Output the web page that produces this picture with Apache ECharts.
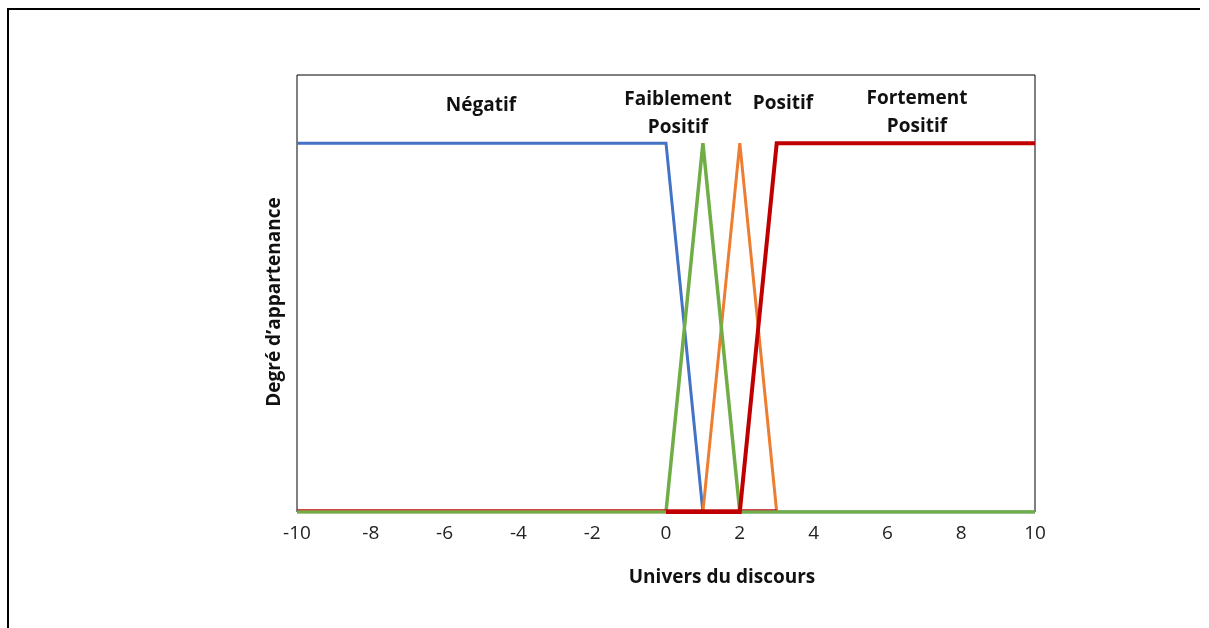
<!DOCTYPE html>
<html>
<head>
<meta charset="utf-8">
<script src="https://cdn.jsdelivr.net/npm/echarts@6/dist/echarts.min.js"></script>
<style>
  html, body { margin: 0; padding: 0; background: #fff; }
  #chart { width: 1209px; height: 628px; }
</style>
</head>
<body>
<div id="chart"></div>
<script>
// Fuzzy membership functions over the universe of discourse [-10, 10]
const negatif = [[-10, 1], [0, 1], [1, 0], [10, 0]];
const faiblementPositif = [[-10, 0], [0, 0], [1, 1], [2, 0], [10, 0]];
const positif = [[-10, 0], [1, 0], [2, 1], [3, 0]];
const fortementPositif = [[0, 0], [2, 0], [3, 1], [10, 1]];
const baseTrace = [[-10, 0.006], [3, 0.006]];

const xTicks = { min: -10, max: 10, step: 2 };
const setLabels = ['Négatif', 'Faiblement\nPositif', 'Positif', 'Fortement\nPositif'];
const xTitle = 'Univers du discours';
const yTitle = 'Degré d\u2019appartenance';

const FONT = '"Open Sans", Lato, sans-serif';
const chart = echarts.init(document.getElementById('chart'));

function line(data, color, width, z) {
  return {
    type: 'line', data: data, symbol: 'none', z: z,
    lineStyle: { color: color, width: width, cap: 'butt', join: 'miter' },
    animation: false
  };
}

function label(text, x, y, size, extra) {
  return Object.assign({
    type: 'text', x: x, y: y,
    style: { text: text, font: 'bold ' + size + 'px ' + FONT, lineHeight: 28, fill: '#111', align: 'center', verticalAlign: 'middle' }
  }, extra || {});
}

chart.setOption({
  backgroundColor: '#fff',
  grid: {
    left: 297, right: 174, top: 75, bottom: 116,
    show: true, borderColor: '#000', borderWidth: 1, backgroundColor: 'transparent'
  },
  xAxis: {
    type: 'value', min: xTicks.min, max: xTicks.max, interval: xTicks.step,
    splitLine: { show: false }, axisTick: { show: false },
    axisLine: { show: false },
    axisLabel: { color: '#222', fontSize: 19, fontFamily: FONT, margin: 12 }
  },
  yAxis: {
    type: 'value', min: 0, max: 1.185,
    splitLine: { show: false }, axisTick: { show: false },
    axisLine: { show: false }, axisLabel: { show: false }
  },
  series: [
    line(negatif, '#4472C4', 3, 2),
    line(positif, '#ED7D31', 3, 3),
    line(faiblementPositif, '#70AD47', 3.5, 4),
    line(fortementPositif, '#C00000', 4, 5),
    line(baseTrace, '#C00000', 1, 6)
  ],
  graphic: [
    { type: 'line', shape: { x1: 7, y1: 9, x2: 1200, y2: 9 }, style: { stroke: '#000', lineWidth: 2 } },
    { type: 'line', shape: { x1: 8, y1: 9, x2: 8, y2: 628 }, style: { stroke: '#000', lineWidth: 2 } },
    label(setLabels[0], 481, 106, 19),
    label(setLabels[1], 678, 114, 19),
    label(setLabels[2], 783, 104, 19),
    label(setLabels[3], 917, 113, 19),
    label(xTitle, 722, 578, 19),
    label(yTitle, 275, 302, 19, { rotation: Math.PI / 2 })
  ]
});
</script>
</body>
</html>
